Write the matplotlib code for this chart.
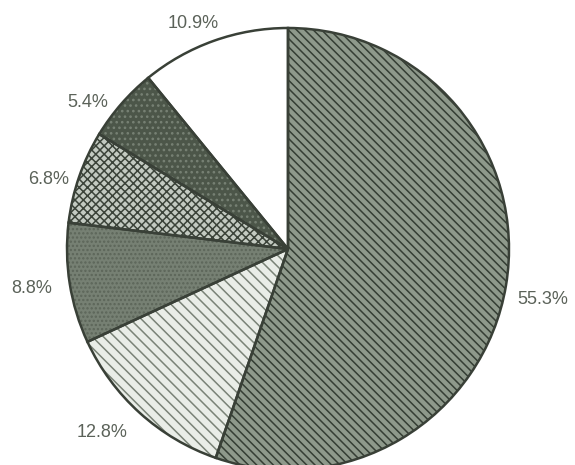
import matplotlib
matplotlib.use("Agg")
import matplotlib.pyplot as plt

# Share of each segment, clockwise from 12 o'clock
values = [55.3, 12.8, 8.8, 6.8, 5.4, 10.9]
labels = ["55.3%", "12.8%", "8.8%", "6.8%", "5.4%", "10.9%"]

face_colors = ["#8e998b", "#e9ede7", "#768073", "#c3cac1", "#4c5649", "#ffffff"]
hatch_colors = ["#353e34", "#7a8377", "#5c6559", "#3b4339", "#778174", "#ffffff"]
hatches = ["\\\\\\\\", "\\\\\\", "....", "xxxx", "...", ""]

# Per-label nudges in pixels (right, down) from the default label spot
label_nudge = [(1, 8), (-13, -7), (-2, -1), (4, 15), (-6, 23), (-8, 17)]

edge_color = "#394037"
text_color = "#5b6259"

plt.rcParams["font.family"] = ["Liberation Sans", "DejaVu Sans"]
plt.rcParams["hatch.linewidth"] = 1.1

W, H = 575, 465
fig = plt.figure(figsize=(W / 100, H / 100), dpi=100)
ax = fig.add_axes([0, 0, 1, 1])

center = (288, H - 249)
radius = 221

# Filled, hatched wedges
wedges, texts = ax.pie(
    values,
    labels=labels,
    startangle=90,
    counterclock=False,
    center=center,
    radius=radius,
    labeldistance=1.165,
    colors=face_colors,
    wedgeprops=dict(linewidth=0),
    textprops=dict(color=text_color, fontsize=13),
    frame=True,
)
for w, hc, ht in zip(wedges, hatch_colors, hatches):
    w.set_hatch(ht)
    w.set_edgecolor(hc)
    w.set_linewidth(0)
for t, (dx, dy) in zip(texts, label_nudge):
    x, y = t.get_position()
    t.set_position((x + dx, y - dy))
    t.set_horizontalalignment("center")
    t.set_verticalalignment("center")

# Outlines drawn on top of the hatching
ax.pie(
    values,
    startangle=90,
    counterclock=False,
    center=center,
    radius=radius,
    colors=["none"] * len(values),
    wedgeprops=dict(linewidth=1.8, edgecolor=edge_color, fill=False),
    frame=True,
)

ax.set_xlim(0, W)
ax.set_ylim(0, H)
ax.set_axis_off()

fig.savefig("out.png", dpi=100, facecolor="white")
